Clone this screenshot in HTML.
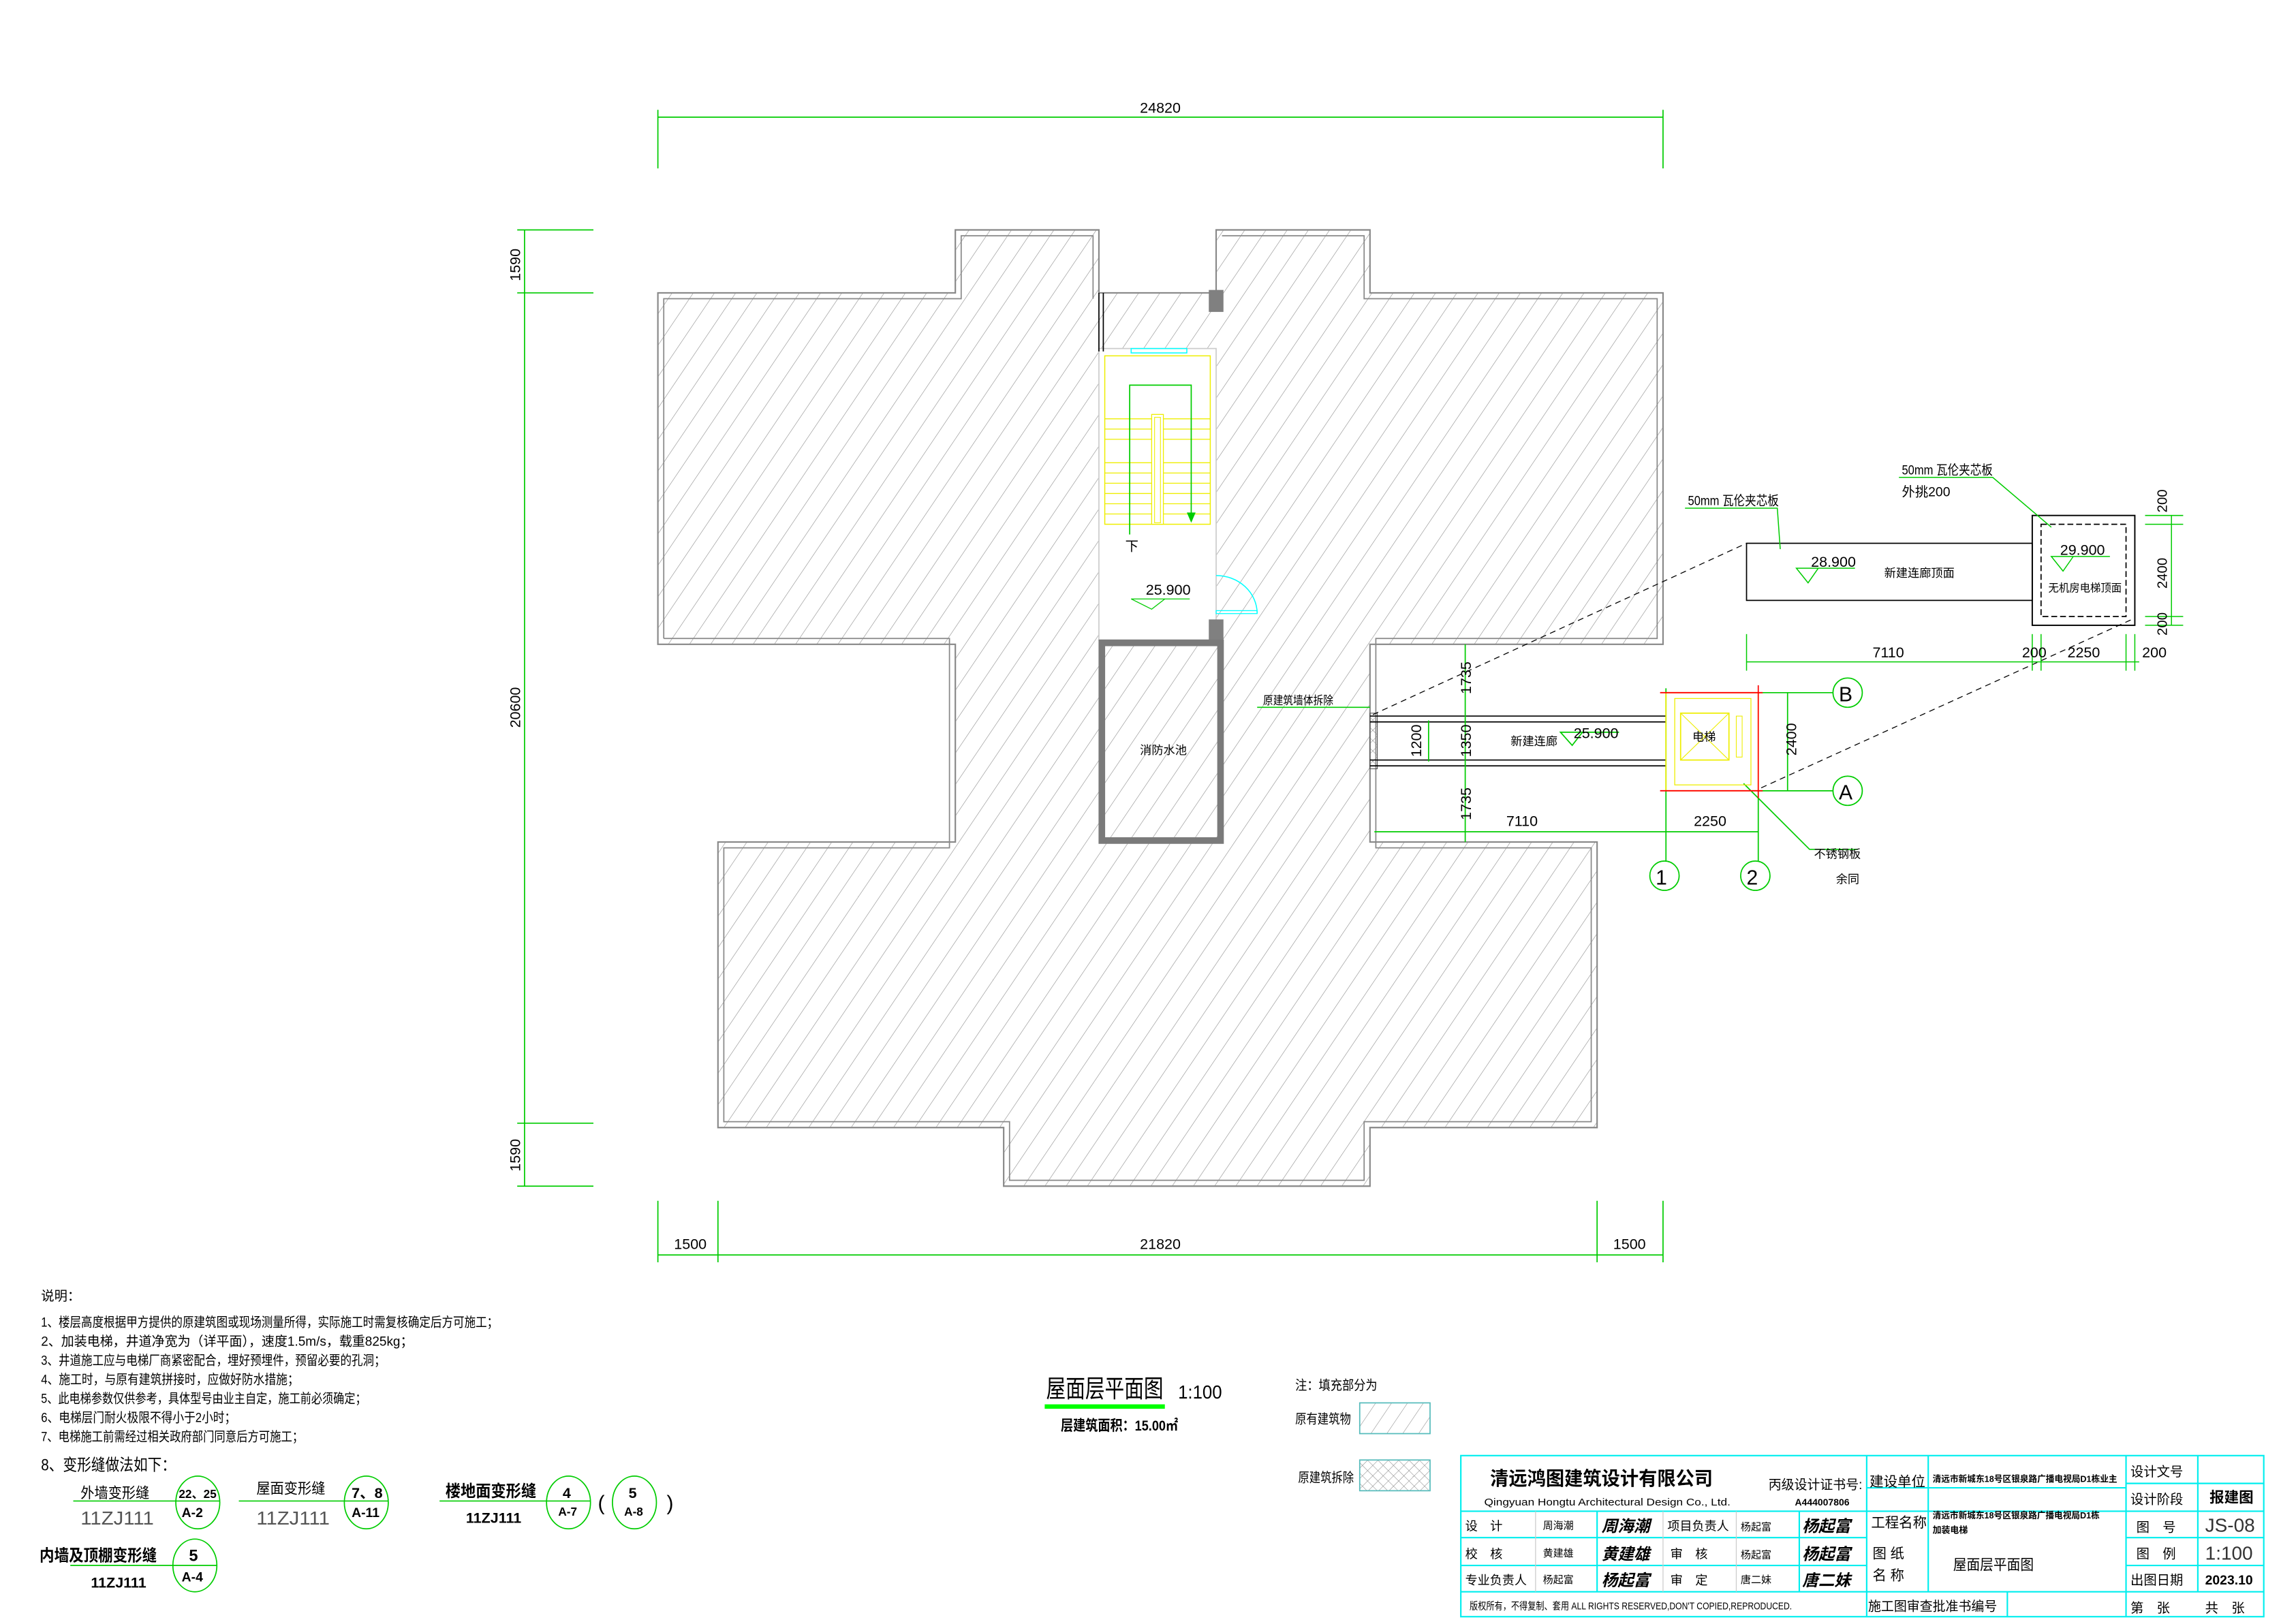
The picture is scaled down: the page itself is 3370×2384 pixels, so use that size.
<!DOCTYPE html>
<html><head><meta charset="utf-8"><style>
html,body{margin:0;padding:0;background:#fff;}
svg{display:block;}
text{font-family:"Liberation Sans","Noto Sans CJK SC",sans-serif;}
</style></head><body>
<svg xmlns="http://www.w3.org/2000/svg" width="3370" height="2384" viewBox="0 0 1567 1109" preserveAspectRatio="none">
<defs>
<pattern id="h" patternUnits="userSpaceOnUse" width="12" height="12" patternTransform="rotate(34)">
<line x1="0" y1="0" x2="0" y2="12" stroke="#8a8a8a" stroke-width="0.55"/>
</pattern>
<pattern id="hl" patternUnits="userSpaceOnUse" width="9" height="9" patternTransform="rotate(34)">
<line x1="0" y1="0" x2="0" y2="9" stroke="#888" stroke-width="0.5"/>
</pattern>
<pattern id="x" patternUnits="userSpaceOnUse" width="5" height="5" patternTransform="rotate(45)">
<line x1="0" y1="0" x2="0" y2="5" stroke="#888" stroke-width="0.5"/>
<line x1="0" y1="0" x2="5" y2="0" stroke="#888" stroke-width="0.5"/>
</pattern>
</defs>
<rect width="1567" height="1109" fill="#fff"/>

<!-- building -->
<polygon points="449,200 652,200 652,157 750,157 750,200 830,200 830,157 935,157 935,200 1135,200 1135,440 935,440 935,575 1090,575 1090,770 935,770 935,810 685,810 685,770 490,770 490,575 652,575 652,440 449,440" fill="url(#h)" stroke="#888" stroke-width="1"/>
<polyline points="453,436 648,436 648,579 494,579 494,766 689,766 689,806 931,806 931,766 1086,766 1086,579 939,579 939,436 1131,436 1131,204 931,204 931,161 834,161" fill="none" stroke="#888" stroke-width="0.8"/>
<polyline points="453,436 453,204 656,204 656,161 746,161 746,204" fill="none" stroke="#888" stroke-width="0.8"/>
<!-- stair hole -->
<rect x="750" y="238" width="80" height="199" fill="#fff" stroke="#ccc" stroke-width="0.8"/>
<line x1="750" y1="200" x2="750" y2="240" stroke="#000" stroke-width="0.8"/>
<line x1="753" y1="200" x2="753" y2="240" stroke="#000" stroke-width="0.8"/>
<rect x="772" y="238" width="38" height="3" fill="none" stroke="#0ff" stroke-width="0.7"/>
<rect x="754" y="243" width="72" height="115" fill="none" stroke="#ee0" stroke-width="0.7"/>
<g stroke="#ee0" stroke-width="0.6">
<line x1="754" y1="286" x2="826" y2="286"/><line x1="754" y1="293" x2="826" y2="293"/><line x1="754" y1="300" x2="826" y2="300"/>
<line x1="754" y1="316" x2="826" y2="316"/><line x1="754" y1="323" x2="826" y2="323"/><line x1="754" y1="330" x2="826" y2="330"/>
<line x1="754" y1="337" x2="826" y2="337"/><line x1="754" y1="344" x2="826" y2="344"/><line x1="754" y1="351" x2="826" y2="351"/>
</g>
<rect x="786" y="283" width="8" height="75" fill="#fff" stroke="#ee0" stroke-width="0.6"/>
<rect x="788" y="285" width="4" height="72" fill="none" stroke="#ee0" stroke-width="0.5"/>
<polyline points="771,365 771,263 813,263 813,353" fill="none" stroke="#0c0" stroke-width="0.8"/>
<polygon points="810,350 816,350 813,357" fill="#0c0"/>
<text x="768" y="376" font-size="9">下</text>
<path d="M830,393 A28,26 0 0 1 858,419" fill="none" stroke="#0ff" stroke-width="0.7"/>
<rect x="830" y="417" width="28" height="2" fill="none" stroke="#0ff" stroke-width="0.6"/>
<text x="782" y="406" font-size="10">25.900</text>
<polyline points="812,409 772,409 786,416 795,409" fill="none" stroke="#0c0" stroke-width="0.6"/>
<rect x="825" y="198" width="10" height="15" fill="#808080"/>
<rect x="825" y="423" width="10" height="14" fill="#808080"/>
<!-- water tank -->
<rect x="752" y="439" width="81" height="135" fill="none" stroke="#7a7a7a" stroke-width="4.5"/>
<text x="778" y="515" font-size="8">消防水池</text>

<!-- dimensions -->
<g stroke="#0c0" stroke-width="0.8">
<line x1="449" y1="80" x2="1135" y2="80"/><line x1="449" y1="75" x2="449" y2="115"/><line x1="1135" y1="75" x2="1135" y2="115"/>
<line x1="358" y1="157" x2="358" y2="810"/>
<line x1="353" y1="157" x2="405" y2="157"/><line x1="353" y1="200" x2="405" y2="200"/><line x1="353" y1="767" x2="405" y2="767"/><line x1="353" y1="810" x2="405" y2="810"/>
<line x1="449" y1="857" x2="1135" y2="857"/>
<line x1="449" y1="820" x2="449" y2="862"/><line x1="490" y1="820" x2="490" y2="862"/><line x1="1090" y1="820" x2="1090" y2="862"/><line x1="1135" y1="820" x2="1135" y2="862"/>
</g>
<text x="778" y="77" font-size="10">24820</text>
<text x="460" y="853" font-size="10">1500</text>
<text x="778" y="853" font-size="10">21820</text>
<text x="1101" y="853" font-size="10">1500</text>
<text transform="translate(355,192) rotate(-90)" font-size="10">1590</text>
<text transform="translate(355,497) rotate(-90)" font-size="10">20600</text>
<text transform="translate(355,800) rotate(-90)" font-size="10">1590</text>

<!-- corridor -->
<rect x="935" y="487" width="5" height="38" fill="url(#x)" stroke="#555" stroke-width="0.5"/>
<g stroke="#000" stroke-width="0.8">
<line x1="935" y1="489" x2="1137" y2="489"/><line x1="935" y1="493" x2="1137" y2="493"/>
<line x1="935" y1="519" x2="1137" y2="519"/><line x1="935" y1="523" x2="1137" y2="523"/>
</g>
<g stroke="#0c0" stroke-width="0.8" fill="none">
<line x1="1000" y1="440" x2="1000" y2="575"/>
<line x1="975" y1="492" x2="975" y2="520"/>
<line x1="938" y1="568" x2="1200" y2="568"/>
<line x1="1137" y1="470" x2="1137" y2="588"/><line x1="1200" y1="540" x2="1200" y2="588"/>
<circle cx="1136" cy="598" r="10"/><circle cx="1198" cy="598" r="10"/>
<line x1="1200" y1="473" x2="1251" y2="473"/><line x1="1200" y1="540" x2="1251" y2="540"/>
<circle cx="1261" cy="473" r="10"/><circle cx="1261" cy="540" r="10"/>
<line x1="1220" y1="473" x2="1220" y2="540"/>
<polyline points="1190,535 1235,580 1268,580"/>
<line x1="858" y1="483" x2="935" y2="483"/>
<polyline points="1105,500 1065,500 1073,509 1080,500"/>
</g>
<text transform="translate(1004,474) rotate(-90)" font-size="10">1735</text>
<text transform="translate(1004,517) rotate(-90)" font-size="10">1350</text>
<text transform="translate(1004,560) rotate(-90)" font-size="10">1735</text>
<text transform="translate(970,517) rotate(-90)" font-size="10">1200</text>
<text transform="translate(1226,516) rotate(-90)" font-size="10">2400</text>
<text x="1028" y="564" font-size="10">7110</text>
<text x="1156" y="564" font-size="10">2250</text>
<text x="1130" y="604" font-size="14">1</text>
<text x="1192" y="604" font-size="14">2</text>
<text x="1255" y="479" font-size="14">B</text>
<text x="1255" y="546" font-size="14">A</text>
<text x="1031" y="509" font-size="8">新建连廊</text>
<text x="1074" y="504" font-size="10">25.900</text>
<text x="862" y="481" font-size="8" textLength="48" lengthAdjust="spacingAndGlyphs">原建筑墙体拆除</text>
<text x="1238" y="586" font-size="8">不锈钢板</text>
<text x="1253" y="603" font-size="8">余同</text>
<!-- elevator -->
<rect x="1137" y="473" width="63" height="67" fill="none" stroke="#ee0" stroke-width="0.8"/>
<rect x="1143" y="477" width="52" height="59" fill="none" stroke="#ee0" stroke-width="0.6"/>
<rect x="1147" y="487" width="33" height="32" fill="none" stroke="#ee0" stroke-width="0.8"/>
<line x1="1147" y1="487" x2="1180" y2="519" stroke="#ee0" stroke-width="0.5"/>
<line x1="1180" y1="487" x2="1147" y2="519" stroke="#ee0" stroke-width="0.5"/>
<rect x="1185" y="489" width="4" height="28" fill="none" stroke="#ee0" stroke-width="0.5"/>
<line x1="1133" y1="473" x2="1203" y2="473" stroke="#f00" stroke-width="0.9"/>
<line x1="1133" y1="540" x2="1203" y2="540" stroke="#f00" stroke-width="0.9"/>
<line x1="1200" y1="468" x2="1200" y2="545" stroke="#f00" stroke-width="0.8"/>
<text x="1155" y="506" font-size="8">电梯</text>
<!-- dashed projection -->
<line x1="937" y1="488" x2="1192" y2="371" stroke="#000" stroke-width="0.6" stroke-dasharray="4,3"/>
<line x1="1202" y1="538" x2="1455" y2="423" stroke="#000" stroke-width="0.6" stroke-dasharray="4,3"/>
<!-- top views -->
<rect x="1192" y="371" width="195" height="39" fill="none" stroke="#000" stroke-width="0.8"/>
<rect x="1387" y="352" width="70" height="75" fill="none" stroke="#000" stroke-width="0.9"/>
<rect x="1393" y="358" width="58" height="63" fill="none" stroke="#000" stroke-width="0.8" stroke-dasharray="4,2"/>
<g stroke="#0c0" stroke-width="0.7" fill="none">
<polyline points="1266,388 1226,388 1234,398 1241,388"/>
<polyline points="1440,380 1400,380 1408,390 1415,380"/>
<polyline points="1150,347 1213,347 1215,375"/>
<polyline points="1296,326 1360,326 1400,360"/>
<line x1="1482" y1="352" x2="1482" y2="427"/>
<line x1="1464" y1="352" x2="1490" y2="352"/><line x1="1464" y1="358" x2="1490" y2="358"/><line x1="1464" y1="421" x2="1490" y2="421"/><line x1="1464" y1="427" x2="1490" y2="427"/>
<line x1="1192" y1="452" x2="1460" y2="452"/>
<line x1="1192" y1="433" x2="1192" y2="458"/><line x1="1387" y1="433" x2="1387" y2="458"/><line x1="1393" y1="433" x2="1393" y2="458"/><line x1="1451" y1="433" x2="1451" y2="458"/><line x1="1457" y1="433" x2="1457" y2="458"/>
</g>
<text x="1236" y="387" font-size="10">28.900</text>
<text x="1286" y="394" font-size="8">新建连廊顶面</text>
<text x="1406" y="379" font-size="10">29.900</text>
<text x="1398" y="404" font-size="7.5" textLength="50" lengthAdjust="spacingAndGlyphs">无机房电梯顶面</text>
<text x="1152" y="345" font-size="9" textLength="62" lengthAdjust="spacingAndGlyphs">50mm 瓦伦夹芯板</text>
<text x="1298" y="324" font-size="9" textLength="62" lengthAdjust="spacingAndGlyphs">50mm 瓦伦夹芯板</text>
<text x="1298" y="339" font-size="9">外挑200</text>
<text transform="translate(1479,350) rotate(-90)" font-size="9.5">200</text>
<text transform="translate(1479,402) rotate(-90)" font-size="9.5">2400</text>
<text transform="translate(1479,434) rotate(-90)" font-size="9.5">200</text>
<text x="1278" y="449" font-size="10">7110</text>
<text x="1380" y="449" font-size="10">200</text>
<text x="1411" y="449" font-size="10">2250</text>
<text x="1462" y="449" font-size="10">200</text>

<!-- notes -->
<g font-size="9" lengthAdjust="spacingAndGlyphs">
<text x="28" y="888">说明：</text>
<text x="28" y="906" textLength="312" lengthAdjust="spacingAndGlyphs">1、楼层高度根据甲方提供的原建筑图或现场测量所得，实际施工时需复核确定后方可施工；</text>
<text x="28" y="919" textLength="254" lengthAdjust="spacingAndGlyphs">2、加装电梯，井道净宽为（详平面），速度1.5m/s，载重825kg；</text>
<text x="28" y="932" textLength="235" lengthAdjust="spacingAndGlyphs">3、井道施工应与电梯厂商紧密配合，埋好预埋件，预留必要的孔洞；</text>
<text x="28" y="945" textLength="176" lengthAdjust="spacingAndGlyphs">4、施工时，与原有建筑拼接时，应做好防水措施；</text>
<text x="28" y="958" textLength="222" lengthAdjust="spacingAndGlyphs">5、此电梯参数仅供参考，具体型号由业主自定，施工前必须确定；</text>
<text x="28" y="971" textLength="133" lengthAdjust="spacingAndGlyphs">6、电梯层门耐火极限不得小于2小时；</text>
<text x="28" y="984" textLength="179" lengthAdjust="spacingAndGlyphs">7、电梯施工前需经过相关政府部门同意后方可施工；</text>
<text x="28" y="1004" font-size="11" textLength="92" lengthAdjust="spacingAndGlyphs">8、变形缝做法如下：</text>
</g>
<g stroke="#0c0" stroke-width="0.8" fill="none">
<line x1="50" y1="1025" x2="150" y2="1025"/><ellipse cx="135" cy="1026" rx="15" ry="18"/>
<line x1="163" y1="1025" x2="265" y2="1025"/><ellipse cx="250" cy="1026" rx="15" ry="18"/>
<line x1="300" y1="1025" x2="403" y2="1025"/><ellipse cx="388" cy="1026" rx="15" ry="18"/><ellipse cx="433" cy="1026" rx="15" ry="18"/>
<line x1="48" y1="1069" x2="148" y2="1069"/><ellipse cx="133" cy="1069" rx="15" ry="18"/>
</g>
<text x="55" y="1023" font-size="10" textLength="47" lengthAdjust="spacingAndGlyphs">外墙变形缝</text>
<text x="55" y="1041" font-size="13" fill="#555" textLength="50" lengthAdjust="spacingAndGlyphs">11ZJ111</text>
<text x="122" y="1023" font-size="8" font-weight="bold">22、25</text>
<text x="124" y="1036" font-size="9" font-weight="bold">A-2</text>
<text x="175" y="1020" font-size="10" textLength="47" lengthAdjust="spacingAndGlyphs">屋面变形缝</text>
<text x="175" y="1041" font-size="13" fill="#555" textLength="50" lengthAdjust="spacingAndGlyphs">11ZJ111</text>
<text x="240" y="1023" font-size="10" font-weight="bold">7、8</text>
<text x="240" y="1036" font-size="9" font-weight="bold">A-11</text>
<text x="304" y="1022" font-size="11" font-weight="bold" textLength="62" lengthAdjust="spacingAndGlyphs">楼地面变形缝</text>
<text x="318" y="1040" font-size="10" font-weight="bold">11ZJ111</text>
<text x="384" y="1023" font-size="10" font-weight="bold">4</text>
<text x="381" y="1035" font-size="8" font-weight="bold">A-7</text>
<text x="408" y="1031" font-size="14">(</text>
<text x="429" y="1023" font-size="10" font-weight="bold">5</text>
<text x="426" y="1035" font-size="8" font-weight="bold">A-8</text>
<text x="455" y="1031" font-size="14">)</text>
<text x="27" y="1066" font-size="11" font-weight="bold" textLength="80" lengthAdjust="spacingAndGlyphs">内墙及顶棚变形缝</text>
<text x="62" y="1084" font-size="10" font-weight="bold">11ZJ111</text>
<text x="129" y="1066" font-size="11" font-weight="bold">5</text>
<text x="124" y="1080" font-size="9" font-weight="bold">A-4</text>

<!-- drawing title -->
<text x="714" y="954" font-size="17" textLength="80" lengthAdjust="spacingAndGlyphs">屋面层平面图</text>
<text x="804" y="955" font-size="13" textLength="30" lengthAdjust="spacingAndGlyphs">1:100</text>
<rect x="713" y="959" width="82" height="3" fill="#0f0"/>
<text x="724" y="977" font-size="10" font-weight="bold" textLength="80" lengthAdjust="spacingAndGlyphs">层建筑面积：15.00㎡</text>
<text x="884" y="949" font-size="9" textLength="56" lengthAdjust="spacingAndGlyphs">注：填充部分为</text>
<text x="884" y="972" font-size="9" textLength="38" lengthAdjust="spacingAndGlyphs">原有建筑物</text>
<rect x="928" y="958" width="48" height="21" fill="url(#hl)" stroke="#5bb" stroke-width="0.8"/>
<text x="886" y="1012" font-size="9" textLength="38" lengthAdjust="spacingAndGlyphs">原建筑拆除</text>
<rect x="928" y="997" width="48" height="21" fill="url(#x)" stroke="#5bb" stroke-width="0.8"/>

<!-- title block -->
<g stroke="#0ee" stroke-width="1" fill="none">
<rect x="997" y="994" width="548" height="110"/>
<line x1="1274" y1="994" x2="1274" y2="1104"/>
<line x1="1316" y1="994" x2="1316" y2="1087"/>
<line x1="1451" y1="994" x2="1451" y2="1104"/>
<line x1="1500" y1="994" x2="1500" y2="1087"/>
<line x1="1274" y1="1016" x2="1451" y2="1016"/>
<line x1="1451" y1="1013" x2="1545" y2="1013"/>
<line x1="997" y1="1032" x2="1545" y2="1032"/>
<line x1="997" y1="1050" x2="1274" y2="1050"/>
<line x1="1451" y1="1050" x2="1545" y2="1050"/>
<line x1="997" y1="1069" x2="1274" y2="1069"/>
<line x1="1451" y1="1069" x2="1545" y2="1069"/>
<line x1="997" y1="1087" x2="1545" y2="1087"/>
<line x1="1090" y1="1032" x2="1090" y2="1087"/>
<line x1="1228" y1="1032" x2="1228" y2="1087"/>
<line x1="1370" y1="1087" x2="1370" y2="1104"/>
</g>
<g stroke="#ccc" stroke-width="0.6">
<line x1="1048" y1="1032" x2="1048" y2="1087"/><line x1="1135" y1="1032" x2="1135" y2="1087"/><line x1="1185" y1="1032" x2="1185" y2="1087"/>
</g>
<text x="1017" y="1014" font-size="13" font-weight="bold" textLength="152" lengthAdjust="spacingAndGlyphs">清远鸿图建筑设计有限公司</text>
<text x="1013" y="1028" font-size="7" font-family="Liberation Mono,monospace" textLength="168" lengthAdjust="spacingAndGlyphs">Qingyuan  Hongtu Architectural Design Co., Ltd.</text>
<text x="1207" y="1017" font-size="9" textLength="64" lengthAdjust="spacingAndGlyphs">丙级设计证书号:</text>
<text x="1225" y="1028" font-size="6.5" font-weight="bold">A444007806</text>
<text x="1276" y="1015" font-size="9.5" textLength="38" lengthAdjust="spacingAndGlyphs">建设单位</text>
<text x="1319" y="1012" font-size="6" font-weight="bold" textLength="126" lengthAdjust="spacingAndGlyphs">清远市新城东18号区银泉路广播电视局D1栋业主</text>
<text x="1277" y="1043" font-size="9.5" textLength="38" lengthAdjust="spacingAndGlyphs">工程名称</text>
<text x="1319" y="1037" font-size="6" font-weight="bold" textLength="114" lengthAdjust="spacingAndGlyphs">清远市新城东18号区银泉路广播电视局D1栋</text>
<text x="1319" y="1047" font-size="6" font-weight="bold">加装电梯</text>
<text x="1278" y="1064" font-size="9.5">图 纸</text>
<text x="1278" y="1079" font-size="9.5">名 称</text>
<text x="1333" y="1072" font-size="10" textLength="55" lengthAdjust="spacingAndGlyphs">屋面层平面图</text>
<text x="1454" y="1008" font-size="9">设计文号</text>
<text x="1454" y="1027" font-size="9">设计阶段</text>
<text x="1508" y="1026" font-size="10" font-weight="bold">报建图</text>
<text x="1458" y="1046" font-size="9">图　号</text>
<text x="1505" y="1046" font-size="13" fill="#333">JS-08</text>
<text x="1458" y="1064" font-size="9">图　例</text>
<text x="1505" y="1065" font-size="13" fill="#333">1:100</text>
<text x="1454" y="1082" font-size="9">出图日期</text>
<text x="1505" y="1082" font-size="9" font-weight="bold">2023.10</text>
<text x="1454" y="1101" font-size="9">第　张</text>
<text x="1505" y="1101" font-size="9">共　张</text>
<text x="1000" y="1045" font-size="8.5">设　计</text>
<text x="1053" y="1044" font-size="7">周海潮</text>
<text x="1000" y="1064" font-size="8.5">校　核</text>
<text x="1053" y="1063" font-size="7">黄建雄</text>
<text x="1000" y="1082" font-size="8.5" textLength="42" lengthAdjust="spacingAndGlyphs">专业负责人</text>
<text x="1053" y="1081" font-size="7">杨起富</text>
<text x="1138" y="1045" font-size="8.5" textLength="42" lengthAdjust="spacingAndGlyphs">项目负责人</text>
<text x="1188" y="1045" font-size="7">杨起富</text>
<text x="1140" y="1064" font-size="8.5">审　核</text>
<text x="1188" y="1064" font-size="7">杨起富</text>
<text x="1140" y="1082" font-size="8.5">审　定</text>
<text x="1188" y="1081" font-size="7">唐二妹</text>
<g font-size="11" font-weight="bold" font-style="italic" font-family="Liberation Serif,Noto Serif CJK SC,serif">
<text x="1093" y="1046">周海潮</text><text x="1093" y="1065">黄建雄</text><text x="1093" y="1083">杨起富</text>
<text x="1230" y="1046">杨起富</text><text x="1230" y="1065">杨起富</text><text x="1230" y="1083">唐二妹</text>
</g>
<text x="1003" y="1099" font-size="7" textLength="220" lengthAdjust="spacingAndGlyphs">版权所有，不得复制、套用 ALL RIGHTS RESERVED,DON'T COPIED,REPRODUCED.</text>
<text x="1275" y="1100" font-size="9" textLength="88" lengthAdjust="spacingAndGlyphs">施工图审查批准书编号</text>
</svg>
</body></html>
